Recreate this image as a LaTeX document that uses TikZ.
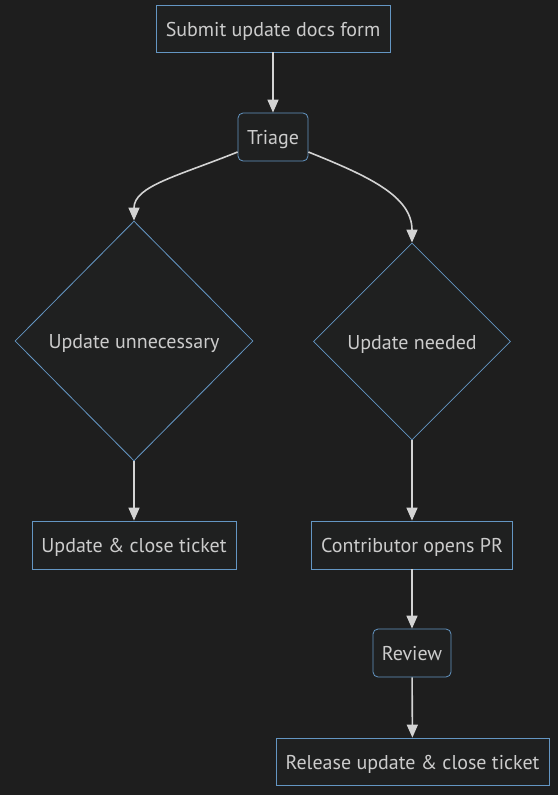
\documentclass[tikz,border=0pt]{standalone}
\usepackage{fontspec}
\setmainfont{PT Sans}
\usetikzlibrary{shapes.geometric,arrows.meta}
\definecolor{canvas}{RGB}{30,30,30}
\definecolor{boxfill}{RGB}{31,32,32}
\definecolor{boxline}{RGB}{100,150,195}
\definecolor{textgray}{RGB}{204,204,204}
\definecolor{flowgray}{RGB}{211,211,211}

\begin{document}
\begin{tikzpicture}[x=1pt,y=-1pt,
    every node/.style={font=\fontsize{20}{24}\selectfont,text height=15.5pt,text depth=0pt},
    taskbox/.style={draw=boxline,fill=boxfill,text=textgray,line width=0.8pt,minimum height=47pt,inner sep=0pt},
    roundbox/.style={taskbox,rounded corners=5pt},
    choice/.style={diamond,draw=boxline,fill=boxfill,text=textgray,line width=0.8pt,inner sep=0pt},
    flow/.style={draw=flowgray,line width=1.6pt,-{Triangle[length=13pt,width=11pt]}}]
	\fill[canvas] (0,0) rectangle (558,795);
	% top of the form
	\node[taskbox,minimum width=234pt] (submit) at (273,28.5) {Submit update docs form};
	\node[roundbox,minimum width=70pt,minimum height=48pt] (triage) at (273,137) {Triage};
	% the two outcomes
	\node[choice,minimum width=238pt,minimum height=240pt] (unneeded) at (134,341) {Update unnecessary};
	\node[choice,minimum width=197pt,minimum height=197pt] (needed) at (412,341.5) {Update needed};
	\node[taskbox,minimum width=204pt,minimum height=48pt] (closeticket) at (134,545) {Update \& close ticket};
	\node[taskbox,minimum width=201pt,minimum height=48pt] (openpr) at (412,545) {Contributor opens PR};
	\node[roundbox,minimum width=78pt,minimum height=48pt] (review) at (412,653) {Review};
	\node[taskbox,minimum width=273pt] (release) at (412.5,761.5) {Release update \& close ticket};
	% connectors
	\draw[flow] (submit) -- (triage);
	\draw[flow] ([yshift=-15pt]triage.west) .. controls (178,176) and (134,186) .. (unneeded.north);
	\draw[flow] ([yshift=-15pt]triage.east) .. controls (368,176) and (412,196) .. (needed.north);
	\draw[flow] (unneeded.south) -- (closeticket);
	\draw[flow] (needed.south) -- (openpr);
	\draw[flow] (openpr) -- (review);
	\draw[flow] (review) -- (release);
\end{tikzpicture}
\end{document}
